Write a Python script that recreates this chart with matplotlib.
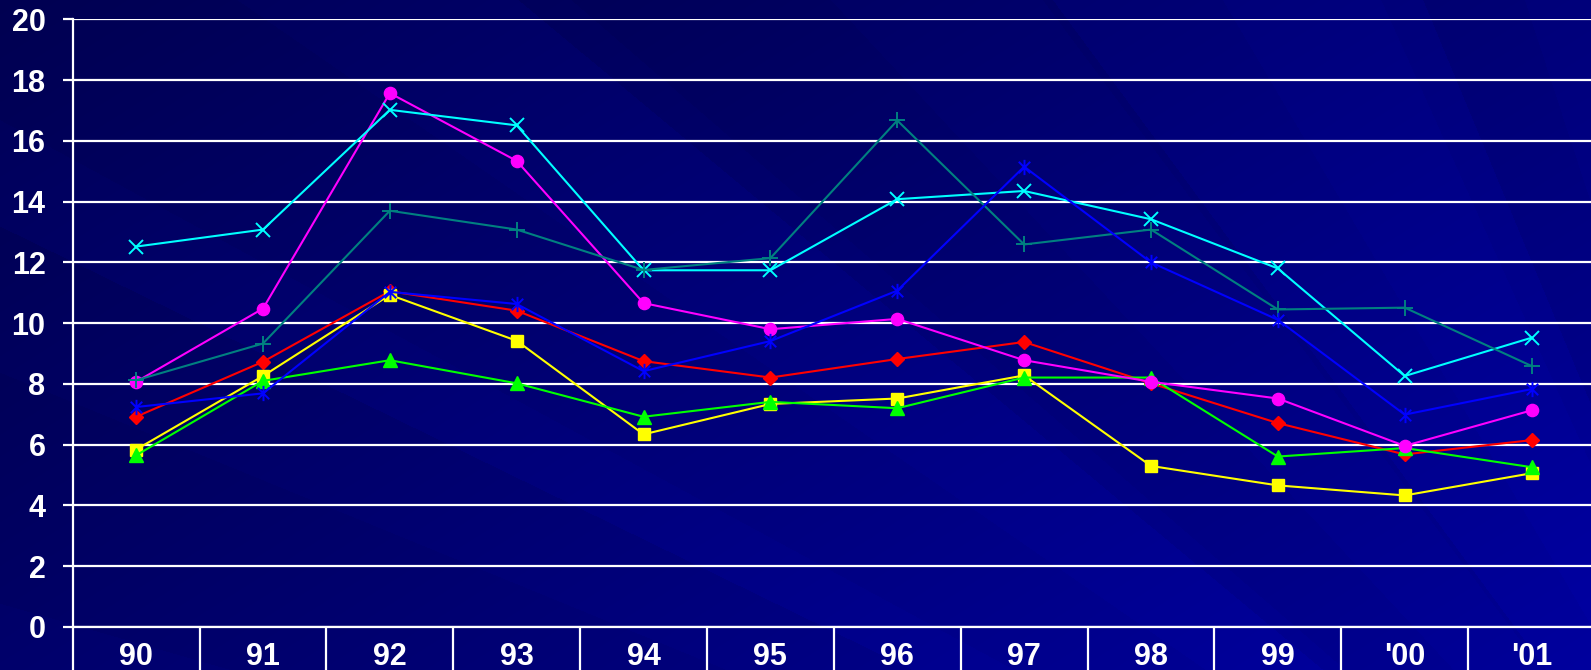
import numpy as np
import matplotlib
matplotlib.use("Agg")
import matplotlib.pyplot as plt
from matplotlib.path import Path

plt.rcParams['font.family'] = ['Liberation Sans', 'DejaVu Sans']

years = ["90", "91", "92", "93", "94", "95", "96", "97", "98", "99", "'00", "'01"]

red_diamond = [6.92, 8.73, 11.05, 10.41, 8.75, 8.21, 8.82, 9.38, 8.02, 6.71, 5.68, 6.15]
yellow_square = [5.84, 8.26, 10.93, 9.42, 6.34, 7.34, 7.52, 8.28, 5.30, 4.66, 4.33, 5.06]
green_triangle = [5.65, 8.1, 8.78, 8.02, 6.92, 7.41, 7.2, 8.21, 8.21, 5.61, 5.89, 5.26]
magenta_circle = [8.07, 10.48, 17.57, 15.34, 10.66, 9.80, 10.14, 8.78, 8.07, 7.52, 5.96, 7.13]
cyan_x = [12.52, 13.08, 17.02, 16.51, 11.74, 11.74, 14.08, 14.35, 13.42, 11.8, 8.26, 9.52]
teal_plus = [8.12, 9.33, 13.70, 13.08, 11.75, 12.14, 16.67, 12.59, 13.08, 10.45, 10.51, 8.59]
blue_star = [7.24, 7.69, 11.03, 10.63, 8.42, 9.41, 11.07, 15.15, 12.0, 10.11, 6.99, 7.83]

W, H = 1591, 670
fig = plt.figure(figsize=(W / 100, H / 100), dpi=100)

# background: dark blue gradient with soft streaks fanning from the lower right
yy, xx = np.mgrid[0:H, 0:W]
base = 0.31 + 0.30 * (0.6 * xx / W + 0.4 * yy / H)
ang = np.arctan2(1150 - yy, 1900 - xx)
bands = np.sign(np.sin(ang * 13 + 0.4)) + 0.5 * np.sign(np.sin(ang * 29 + 1.3))
blue = np.clip(base + 0.018 * bands, 0, 1)
img = np.zeros((H, W, 3))
img[..., 2] = blue
bg = fig.add_axes([0, 0, 1, 1])
bg.imshow(img, aspect='auto', interpolation='bilinear')
bg.axis('off')

ax = fig.add_axes([72.7 / W, (H - 627) / H, (1595 - 72.7) / W, (627 - 19.3) / H])
ax.patch.set_alpha(0)

x = np.arange(len(years))
star = Path([(0, -1), (0, 1), (-0.75, -0.75), (0.75, 0.75), (-0.75, 0.75), (0.75, -0.75)],
            [Path.MOVETO, Path.LINETO, Path.MOVETO, Path.LINETO, Path.MOVETO, Path.LINETO])

lw = 1.5
ax.plot(x, red_diamond, color='#ff0000', lw=lw, marker='D', ms=7.3, mec='#ff0000', clip_on=False)
ax.plot(x, yellow_square, color='#ffff00', lw=lw, marker='s', ms=8.8, mec='#ffff00', clip_on=False)
ax.plot(x, green_triangle, color='#00ff00', lw=lw, marker='^', ms=9.8, mec='#00ff00', clip_on=False)
ax.plot(x, magenta_circle, color='#ff00ff', lw=lw, marker='o', ms=8.8, mec='#ff00ff', clip_on=False)
ax.plot(x, cyan_x, color='#00ffff', lw=lw, marker='x', ms=10, mew=1.4, clip_on=False)
ax.plot(x, teal_plus, color='#008080', lw=lw, marker='+', ms=11, mew=1.4, clip_on=False)
ax.plot(x, blue_star, color='#0000ff', lw=lw, marker=star, ms=11, mew=1.4, clip_on=False)

ax.set_xlim(-0.5, 11.5)
ax.set_ylim(0, 20)
ax.set_yticks(np.arange(0, 21, 2))
ax.set_xticks(x)
ax.set_xticklabels(years)
ax.set_xticks(np.arange(-0.5, 11.5, 1), minor=True)

ax.grid(axis='y', color='white', lw=1.6)
ax.set_axisbelow(True)
for s in ['top', 'right']:
    ax.spines[s].set_visible(False)
for s in ['left', 'bottom']:
    ax.spines[s].set_color('white')
    ax.spines[s].set_linewidth(1.6)

ax.tick_params(axis='y', colors='white', length=7.5, width=1.6, pad=12, labelsize=22)
ax.tick_params(axis='x', which='major', length=0, colors='white', labelsize=22, pad=11)
ax.tick_params(axis='x', which='minor', length=32, width=1.6, color='white')
for lab in ax.get_xticklabels() + ax.get_yticklabels():
    lab.set_fontweight('bold')

fig.savefig("out.png", dpi=100)
